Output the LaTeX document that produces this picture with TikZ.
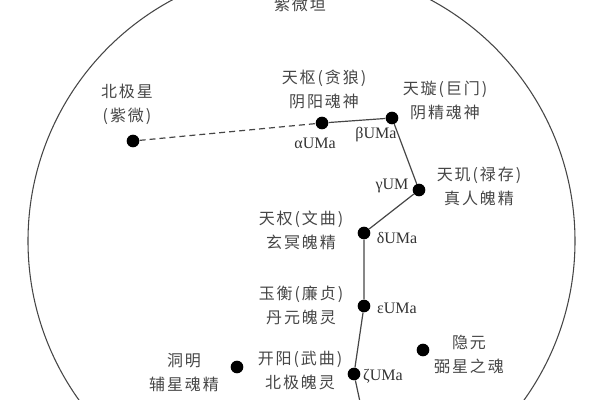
\documentclass[tikz,border=0pt]{standalone}
\usepackage{fontspec}
\setmainfont{Liberation Serif}
\newfontfamily\cjk[LetterSpace=12]{Noto Sans CJK SC}
\usepackage{xcolor}
\definecolor{inkgray}{RGB}{70,70,70}

\tikzset{
  star/.style={circle, fill=black, inner sep=0pt, minimum size=9.5pt},
  cjklabel/.style={inner sep=0.75pt, text=inkgray, align=center, font=\cjk\fontsize{12}{18}\selectfont},
  umalabel/.style={inner sep=0.75pt, text=black!80, font=\fontsize{12}{13}\selectfont},
  link/.style={draw=inkgray, line width=0.9pt},
}

\begin{document}
\begin{tikzpicture}[x=0.75pt,y=0.75pt,yscale=-1,xscale=1]
        \clip (0,0) rectangle (600,400); %set diagram 600 wide and 400 high
        
        %Shape: Circle [id:ziweiyuan]
        \draw [draw=inkgray, line width=0.8pt] (301.5,241) circle (273.5);
        
        % Stars
        \node [star] (polaris) at (133,141) {};
        \node [star] (alpha) at (322,123) {};
        \node [star] (beta) at (392,118) {};
        \node [star] (gamma) at (419,190) {};
        \node [star] (delta) at (364,233) {};
        \node [star] (epsilon) at (364,306) {};
        \node [star] (zeta) at (354,374) {};
        \node [star] (dongming) at (237,367) {};
        \node [star] (yinyuan) at (423,350) {};
        \coordinate (eta) at (365,425);
        
        % Connectors
        \draw [link, dashed, dash pattern=on 4.5pt off 3pt] (polaris) -- (alpha);
        \draw [link] (alpha) -- (beta) -- (gamma) -- (delta) -- (epsilon) -- (zeta) -- (eta);
        
        % Text Node
        \node [cjklabel] (ziweiText) at (300,4) {紫微垣};
        % Text Node
        \node [cjklabel] (polarisText) at (127,104) {北极星\\(紫微)};
        % Text Node
        \node [cjklabel] (alphaText) at (324,89) {天枢(贪狼)\\阴阳魂神};
        % Text Node
        \node [cjklabel] (betaText) at (445,100) {天璇(巨门)\\阴精魂神};
        % Text Node
        \node [cjklabel] (gammaText) at (479,186) {天玑(禄存)\\真人魄精};
        % Text Node
        \node [cjklabel] (deltaText) at (301,230) {天权(文曲)\\玄冥魄精};
        % Text Node
        \node [cjklabel] (epsilonText) at (301,305) {玉衡(廉贞)\\丹元魄灵};
        % Text Node
        \node [cjklabel] (zetaText) at (300,371) {开阳(武曲)\\北极魄灵};
        % Text Node
        \node [cjklabel] (dongmingText) at (184,373) {洞明\\辅星魂精};
        % Text Node
        \node [cjklabel] (yinyuanText) at (469,355) {隐元\\弼星之魂};
        
        % Text Node
        \node [umalabel] (alphaUMa) at (315,143) {αUMa};
        % Text Node
        \node [umalabel] (betaUMa) at (376,135) {βUMa};
        % Text Node
        \node [umalabel] (gammaUMa) at (392,186) {γUM};
        % Text Node
        \node [umalabel] (deltaUMa) at (397,238) {δUMa};
        % Text Node
        \node [umalabel] (epsilonUMa) at (397,308) {εUMa};
        % Text Node
        \node [umalabel] (zetaUMa) at (383,376) {ζUMa};
        
\end{tikzpicture}
\end{document}
